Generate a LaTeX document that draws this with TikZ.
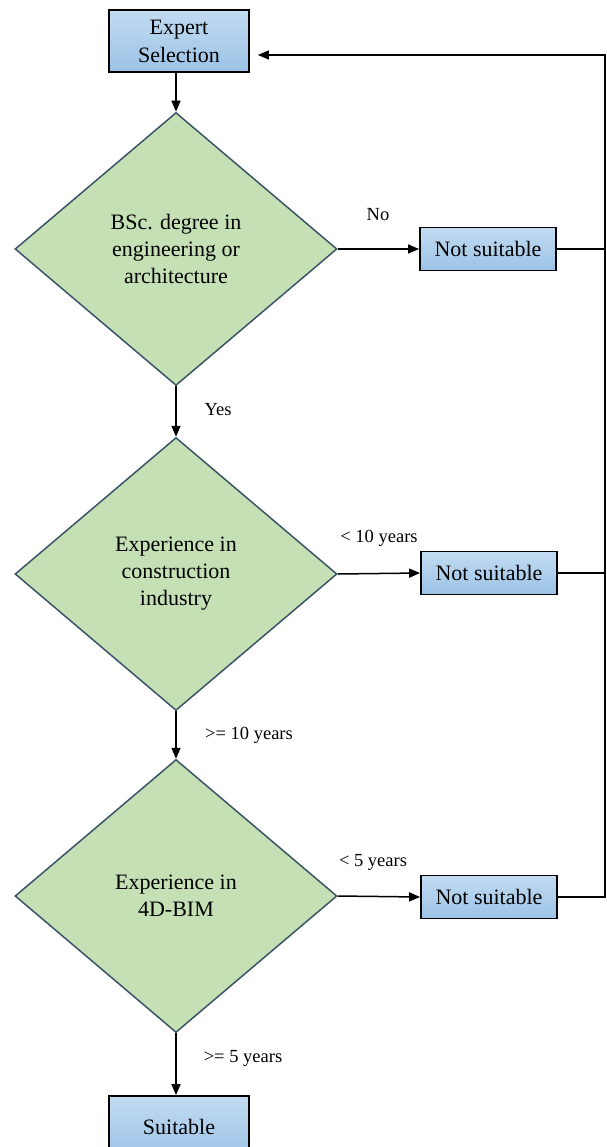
\documentclass[tikz,border=0pt]{standalone}
\usepackage{fontspec}
\setmainfont{Liberation Serif}
\usetikzlibrary{shapes.geometric,arrows.meta}
\definecolor{boxtop}{HTML}{C2DBF2}
\definecolor{boxbot}{HTML}{9CC3E6}
\definecolor{dfill}{HTML}{C5E0B4}
\definecolor{dline}{HTML}{3B5468}
\begin{document}
\begin{tikzpicture}[x=1pt,y=-1pt,
 box/.style={draw=black,line width=1.8pt,top color=boxtop,bottom color=boxbot,
   font=\fontsize{22}{28}\selectfont,align=center,inner sep=0pt},
 dec/.style={diamond,draw=dline,line width=1.5pt,fill=dfill,minimum width=322pt,
   minimum height=273pt,inner sep=0pt,font=\fontsize{22}{27}\selectfont,align=center},
 arr/.style={line width=1.5pt,-{Triangle[length=11pt,width=9pt]}},
 ln/.style={line width=1.5pt},
 lbl/.style={font=\fontsize{18.5}{20}\selectfont}]
\useasboundingbox (0,0) rectangle (606,1147);
\node[box,minimum width=140pt,minimum height=62pt] (es) at (179,41) {Expert\\Selection};
\node[dec] (d1) at (176,249) {BSc. degree in\\engineering or\\architecture};
\node[box,minimum width=136pt,minimum height=43pt] (n1) at (488,249) {Not suitable};
\node[dec] (d2) at (176,574) {Experience in\\construction\\industry};
\node[box,minimum width=136pt,minimum height=43pt] (n2) at (489,573) {Not suitable};
\node[dec] (d3) at (176,896) {Experience in\\4D-BIM};
\node[box,minimum width=136pt,minimum height=43pt] (n3) at (489,897) {Not suitable};
\node[box,minimum width=140pt,minimum height=62pt,text depth=0pt] (su) at (179,1127) {Suitable};
\coordinate (rt) at (605,55);
\draw[arr] (d1.north |- es.south) -- (d1.north);
\draw[arr] (d1.east) -- (n1.west);
\draw[arr] (d2.east) -- (n2.west);
\draw[arr] (d3.east) -- (n3.west);
\draw[arr] (d1.south) -- (d2.north);
\draw[arr] (d2.south) -- (d3.north);
\draw[arr] (d3.south) -- (su.north -| d3.south);
\draw[ln] (n1.east) -- (n1.east -| rt);
\draw[ln] (n2.east) -- (n2.east -| rt);
\draw[arr,shorten >=8pt] (n3.east) -- (n3.east -| rt) -- (rt) -- (es.east |- rt);
\node[lbl] (lno) at (378,215) {No};
\node[lbl] (lyes) at (218,410) {Yes};
\node[lbl] (l10a) at (379,538) {< 10 years};
\node[lbl] (l10b) at (249,735) {>= 10 years};
\node[lbl] (l5a) at (373,862) {< 5 years};
\node[lbl] (l5b) at (243,1058) {>= 5 years};
\end{tikzpicture}
\end{document}
